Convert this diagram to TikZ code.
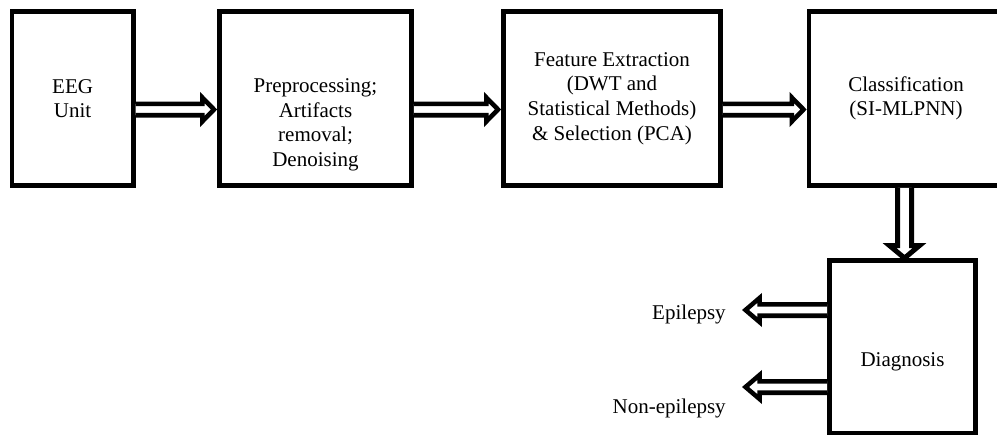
\documentclass[tikz,border=0pt]{standalone}
\usepackage{fontspec}
\setmainfont{Liberation Serif}
\usetikzlibrary{calc}
\tikzset{
	box/.style={draw, line width=3.6pt, inner sep=0pt, minimum height=130.5pt, align=center},
	% hollow block arrow: #1 half shaft, #2 half head, #3 head back from target, #4 tip pull back
	fat/.style n args={4}{draw, fill=white, line width=3.4pt, line join=miter,
		to path={($(\tikztostart)!#1!90:(\tikztotarget)$)
			-- ($($(\tikztotarget)!#3!(\tikztostart)$)!#1!90:(\tikztotarget)$)
			-- ($($(\tikztotarget)!#3!(\tikztostart)$)!#2!90:(\tikztotarget)$)
			-- ($(\tikztotarget)!#4!(\tikztostart)$)
			-- ($($(\tikztotarget)!#3!(\tikztostart)$)!#2!-90:(\tikztotarget)$)
			-- ($($(\tikztotarget)!#3!(\tikztostart)$)!#1!-90:(\tikztotarget)$)
			-- ($(\tikztostart)!#1!-90:(\tikztotarget)$)}}
}
\begin{document}
\begin{tikzpicture}[x=0.75pt, y=-0.75pt, font=\fontsize{15.75}{18.4}\selectfont]
	\useasboundingbox (0,0) rectangle (997,437);
	
	\node[box, minimum width=90.9pt] (eeg) at (72.6,98.5) {EEG\\Unit};
	\node[box, minimum width=144pt] (prep) at (315.5,98.5) {};
	\node[align=center] (preptext) at (315.5,125) {Preprocessing;\\Artifacts\\removal;\\Denoising};
	\node[box, minimum width=162.75pt] (feat) at (612,98.5) {Feature Extraction\\(DWT and\\Statistical Methods)\\\& Selection (PCA)};
	\node[box, minimum width=145.5pt] (cls) at (906,98.5) {Classification\\(SI-MLPNN)};
	\node[box, minimum width=109.5pt, minimum height=129.4pt] (diag) at (902.5,346.75) {};
	\node (diagtext) at (902.5,362) {Diagnosis};
	\node[anchor=base east, inner sep=0pt] (epilabel) at (726,319) {Epilepsy};
	\node[anchor=base east, inner sep=0pt] (nonepilabel) at (726,413) {Non-epilepsy};
	
	\coordinate (row) at (0,109.5);
	\coordinate (down) at (904.5,0);
	\coordinate (epi) at (745.5,310);
	\coordinate (nonepi) at (745.5,387);
	
	\draw[fat={4.3pt}{9pt}{11.1pt}{2.3pt}] (eeg.east |- row) to (prep.west |- row);
	\draw[fat={4.3pt}{9pt}{11.1pt}{2.3pt}] (prep.east |- row) to (feat.west |- row);
	\draw[fat={4.3pt}{9pt}{11.1pt}{2.3pt}] (feat.east |- row) to (cls.west |- row);
	\draw[fat={5.25pt}{11.25pt}{9.4pt}{0pt}, line width=3.75pt] (cls.south -| down) to (diag.north -| down);
	\draw[fat={4.3pt}{9.1pt}{10.65pt}{0pt}] (diag.west |- epi) to (epi);
	\draw[fat={4.3pt}{9.1pt}{10.65pt}{0pt}] (diag.west |- nonepi) to (nonepi);
	
\end{tikzpicture}
\end{document}
